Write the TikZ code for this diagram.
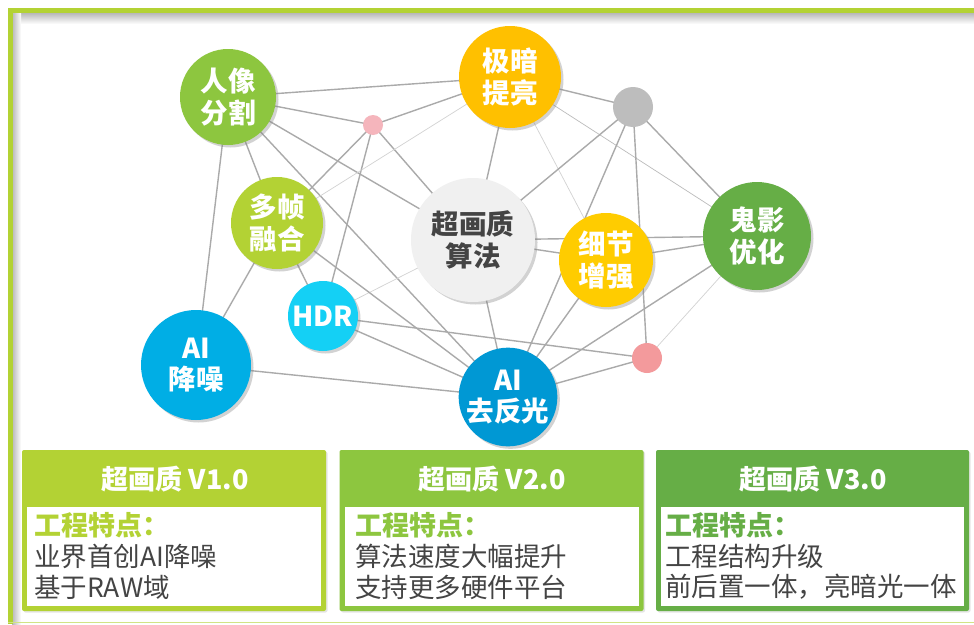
\documentclass[tikz,border=0pt]{standalone}
\usepackage{fontspec}
\setmainfont{Noto Sans CJK SC}
\usetikzlibrary{shadows,backgrounds}
\definecolor{cA}{HTML}{B3D234}
\definecolor{cB}{HTML}{8DC63F}
\definecolor{cC}{HTML}{66AE46}
\definecolor{cOrange}{HTML}{FFC000}
\definecolor{cYellow}{HTML}{FFCC00}
\definecolor{cCyan}{HTML}{14D0F5}
\definecolor{cBlue}{HTML}{00AEE5}
\definecolor{cDeep}{HTML}{0098D4}
\definecolor{cLight}{HTML}{F0F0F0}
\definecolor{cDot}{HTML}{BDBDBD}
\definecolor{cPinkA}{HTML}{F5B5BC}
\definecolor{cPinkB}{HTML}{F39A9C}
\definecolor{cLine}{HTML}{AAAAAA}
\definecolor{cThin}{HTML}{D2D2D2}
\definecolor{cText}{HTML}{444444}
\begin{document}
\begin{tikzpicture}[x=1pt,y=-1pt,
  bubble/.style={circle, inner sep=0pt, text=white, align=center,
    font=\fontsize{27.5}{31.5}\selectfont\bfseries,
    drop shadow={opacity=0.35, shadow xshift=2.5pt, shadow yshift=-2.5pt}},
  dot/.style={circle, inner sep=0pt},
  link/.style={draw=cLine, line width=1.4pt},
  faint/.style={draw=cThin, line width=0.7pt},
  panel/.style={rounded corners=2pt, inner sep=0pt, minimum width=304pt, minimum height=161pt},
  inbox/.style={fill=white, inner sep=0pt, minimum width=294pt, minimum height=99pt},
  ptitle/.style={text=white, font=\fontsize{27}{30}\selectfont\bfseries},
  phead/.style={anchor=west, inner sep=0pt, font=\fontsize{27}{30}\selectfont\bfseries},
  pbody/.style={anchor=west, inner sep=0pt, text=cText, font=\fontsize{26.5}{30}\selectfont}]
\useasboundingbox (0,0) rectangle (974,624);

% frame
\begin{scope}[on background layer]
  \fill[white] (0,0) rectangle (974,624);
  \shade[top color=black!28, bottom color=white] (12,13) rectangle (974,24);
  \shade[left color=black!28, right color=white] (12,13) rectangle (21,624);
  \draw[cA, line width=4.5pt] (10.25,624) -- (10.25,10.5) -- (974,10.5);
  \draw[cA!60, line width=1.2pt] (8,622.5) -- (974,622.5);
\end{scope}

% bubbles
\node[bubble, fill=cB, minimum size=96pt] (ren) at (228,97) {人像\\分割};
\node[bubble, fill=cOrange, minimum size=102pt] (jian) at (510,77) {极暗\\提亮};
\node[dot, fill=cDot, minimum size=40pt] (g) at (633,107) {};
\node[dot, fill=cPinkA, minimum size=20pt] (pa) at (373,125) {};
\node[bubble, fill=cA, minimum size=92pt] (duo) at (277,223) {多帧\\融合};
\node[bubble, fill=cLight, text=cText, minimum size=124pt] (chao) at (473,240) {超画质\\算法};
\node[bubble, fill=cYellow, minimum size=94pt] (xi) at (606,260) {细节\\增强};
\node[bubble, fill=cC, minimum size=108pt] (gui) at (757,236) {鬼影\\优化};
\node[bubble, fill=cCyan, minimum size=70pt] (hdr) at (323,316) {HDR};
\node[bubble, fill=cBlue, minimum size=110pt] (jiang) at (196,365) {AI\\降噪};
\node[bubble, fill=cDeep, minimum size=96pt] (qu) at (508,397) {AI\\去反光};
\node[dot, fill=cPinkB, minimum size=30pt] (pb) at (647,358) {};

% connectors
\begin{scope}[on background layer]
  \path[link] (ren.center) -- (jian.center);
  \path[link] (ren.center) -- (pa.center);
  \path[link] (pa.center) -- (jian.center);
  \path[link] (ren.center) -- (chao.center);
  \path[link] (ren.center) -- (qu.center);
  \path[link] (ren.center) -- (duo.center);
  \path[link] (ren.center) -- (jiang.center);
  \path[link] (pa.center) -- (duo.center);
  \path[link] (pa.center) -- (hdr.center);
  \path[link] (pa.center) -- (chao.center);
  \path[faint] (jian.center) -- (duo.center);
  \path[link] (jian.center) -- (chao.center);
  \path[faint] (jian.center) -- (xi.center);
  \path[link] (jian.center) -- (g.center);
  \path[faint, draw=cLine!80] (jian.center) -- (gui.center);
  \path[link] (g.center) -- (chao.center);
  \path[link] (g.center) -- (qu.center);
  \path[link] (g.center) -- (gui.center);
  \path[link] (g.center) -- (pb.center);
  \path[link] (chao.center) -- (gui.center);
  \path[link] (chao.center) -- (xi.center);
  \path[link] (xi.center) -- (gui.center);
  \path[link] (gui.center) -- (qu.center);
  \path[faint] (gui.center) -- (pb.center);
  \path[link] (xi.center) -- (qu.center);
  \path[link] (pb.center) -- (qu.center);
  \path[link] (hdr.center) -- (pb.center);
  \path[link] (hdr.center) -- (qu.center);
  \path[link] (duo.center) -- (hdr.center);
  \path[faint] (hdr.center) -- (chao.center);
  \path[link] (duo.center) -- (qu.center);
  \path[link] (jiang.center) -- (duo.center);
  \path[link] (jiang.center) -- (qu.center);
  \path[link] (chao.center) -- (qu.center);
\end{scope}

% panels
\node[panel, fill=cA, drop shadow={opacity=0.2, shadow xshift=1.5pt, shadow yshift=-1.5pt}] (boxa) at (174,530.5) {};
\node[panel, fill=cB, drop shadow={opacity=0.2, shadow xshift=1.5pt, shadow yshift=-1.5pt}] (boxb) at (491.5,530.5) {};
\node[panel, fill=cC, minimum width=313pt, drop shadow={opacity=0.2, shadow xshift=1.5pt, shadow yshift=-1.5pt}] (boxc) at (812.5,530.5) {};
\node[inbox, anchor=north] (ina) at (174,507) {};
\node[inbox, anchor=north] (inb) at (491.5,507) {};
\node[inbox, anchor=north, minimum width=303pt] (inc) at (812.5,507) {};

\node[ptitle] (ta) at (175,479) {超画质 V1.0};
\node[ptitle] (tb) at (492,479) {超画质 V2.0};
\node[ptitle] (tc) at (813,479) {超画质 V3.0};

\node[phead, text=cA] (ha) at (34,525) {工程特点：};
\node[pbody] (a1) at (34,556) {业界首创AI降噪};
\node[pbody] (a2) at (34,587) {基于RAW域};

\node[phead, text=cB] (hb) at (355,525) {工程特点：};
\node[pbody] (b1) at (355,556) {算法速度大幅提升};
\node[pbody] (b2) at (355,587) {支持更多硬件平台};

\node[phead, text=cC] (hc) at (665,525) {工程特点：};
\node[pbody] (c1) at (665,556) {工程结构升级};
\node[pbody] (c2) at (665,587) {前后置一体，亮暗光一体};
\end{tikzpicture}
\end{document}
